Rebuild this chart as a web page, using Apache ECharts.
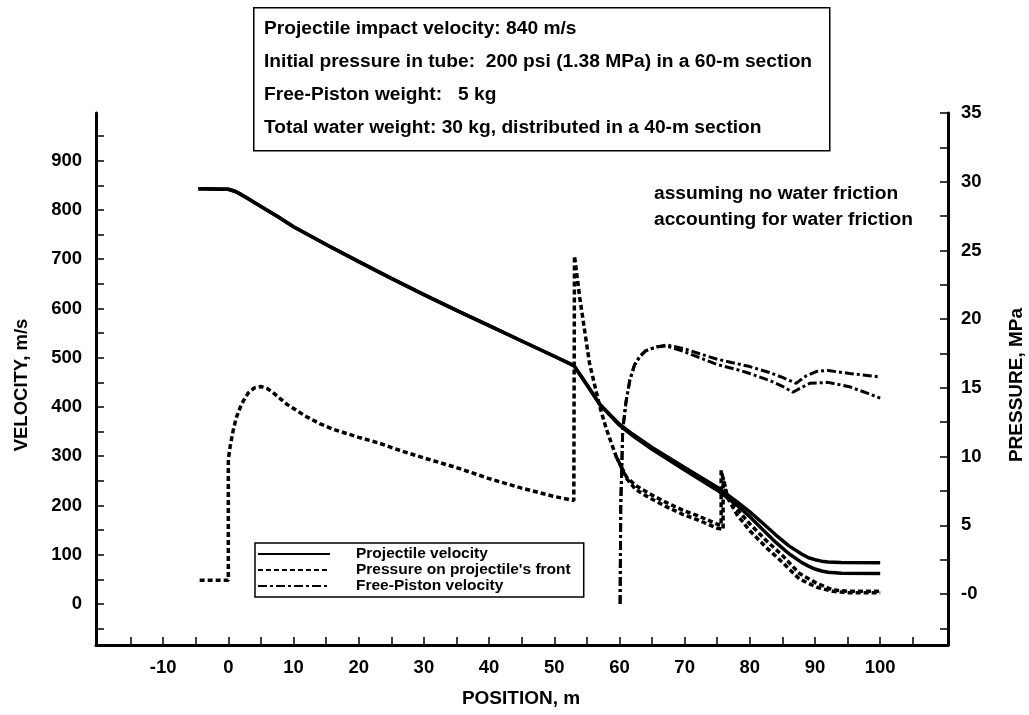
<!DOCTYPE html>
<html>
<head>
<meta charset="utf-8">
<script src="https://cdn.jsdelivr.net/npm/echarts@6/dist/echarts.min.js"></script>
<style>
html,body{margin:0;padding:0;background:#fff;}
#chart{width:1029px;height:715px;}
</style>
</head>
<body>
<div id="chart"></div>
<script>
// ---- Data ----
// Projectile velocity, m/s (left axis)
const velX1 = [-4.6, 0, 1, 2, 3, 5, 7.5, 10, 15, 20, 25, 30, 35, 40, 45, 50, 53, 55, 57, 60, 62, 65, 70, 75, 78, 80, 82, 84, 86, 88, 89, 90, 91, 92, 94, 100];
const velNoFriction = [843, 842, 838, 831, 823, 807, 787, 766, 730, 695, 661, 628, 596, 565, 534, 503, 484, 445, 405, 365, 345, 318, 277, 237, 208, 187, 164, 140, 118, 101, 94, 90, 87, 85.5, 84.5, 84];
const velX2 = [-4.6, 0, 1, 2, 3, 5, 7.5, 10, 15, 20, 25, 30, 35, 40, 45, 50, 53, 55, 57, 60, 62, 65, 70, 75, 78, 80, 82, 84, 86, 88, 89, 90, 91, 92, 94, 100];
const velFriction = [843, 842, 838, 831, 823, 807, 787, 766, 730, 695, 661, 628, 596, 565, 534, 503, 484, 445, 405, 363, 342, 314, 272, 231, 201, 177, 151, 125, 102, 84, 77, 71, 67, 64.5, 62.5, 62];

// Pressure on projectile's front, MPa (right axis)
const presX1 = [-4.4, 0, 0, 0.3, 0.7, 1.2, 2, 3, 4, 5, 6, 7, 8, 9, 10, 12, 14, 16, 18, 20, 23, 26, 30, 35, 40, 45, 50, 53, 53.1, 53.9, 55.4, 57, 58, 59.5, 61.1, 62.5, 64.6, 67, 69.7, 72, 74.9, 75.6, 75.6, 76.4, 78, 80, 82.5, 85, 87.6, 90.2, 92.7, 95, 100];
const presNoFriction = [1.0, 1.0, 9.8, 10.8, 11.8, 12.8, 13.8, 14.6, 15.0, 15.1, 14.95, 14.6, 14.2, 13.8, 13.5, 12.9, 12.4, 12.0, 11.7, 11.4, 11.0, 10.5, 9.9, 9.2, 8.4, 7.7, 7.1, 6.8, 24.6, 21.6, 16.8, 13.6, 12.0, 10.0, 8.5, 7.9, 7.3, 6.7, 6.1, 5.7, 5.1, 5.0, 9.0, 7.3, 6.2, 5.1, 3.9, 2.8, 1.5, 0.8, 0.3, 0.2, 0.2];
const presX2 = [59.5, 61.1, 62.5, 64.6, 67, 69.7, 72, 74.9, 75.9, 75.9, 76.6, 78, 80, 82.5, 85, 87.6, 90.2, 92.7, 95, 100];
const presFriction = [10.0, 8.4, 7.6, 7.0, 6.4, 5.8, 5.4, 4.8, 4.7, 8.5, 7.0, 5.8, 4.6, 3.4, 2.3, 1.1, 0.5, 0.2, 0.1, 0.1];

// Free-Piston velocity, m/s (left axis)
const pistX1 = [60.1, 60.2, 60.5, 61, 61.6, 62.3, 63.1, 64, 65.7, 67.2, 70, 72.3, 75, 78, 80, 83, 85, 87.1, 88.5, 90.2, 92, 95.3, 98, 100];
const pistNoFriction = [0, 200, 353, 410, 455, 485, 502, 514, 522, 526, 518, 508, 497, 488, 482, 470, 460, 448, 462, 472, 474, 468, 464, 461];
const pistX2 = [60.1, 60.2, 60.5, 61, 61.6, 62.3, 63.1, 64, 65.7, 67.2, 70, 72.3, 75, 78, 80, 83, 85, 86.6, 88, 89.2, 92, 95.3, 98, 100];
const pistFriction = [0, 200, 353, 410, 455, 485, 502, 514, 522, 524, 512, 500, 486, 476, 468, 454, 442, 430, 440, 448, 450, 441, 428, 418];

// Axis ticks / labels
const xTicks = [-15, -10, -5, 0, 5, 10, 15, 20, 25, 30, 35, 40, 45, 50, 55, 60, 65, 70, 75, 80, 85, 90, 95, 100, 105];
const xLabels = [-10, 0, 10, 20, 30, 40, 50, 60, 70, 80, 90, 100];
const velTicks = [-50, 0, 50, 100, 150, 200, 250, 300, 350, 400, 450, 500, 550, 600, 650, 700, 750, 800, 850, 900, 950];
const velLabels = [0, 100, 200, 300, 400, 500, 600, 700, 800, 900];
const presTicks = [-2.5, 0, 2.5, 5, 7.5, 10, 12.5, 15, 17.5, 20, 22.5, 25, 27.5, 30, 32.5, 35];
const presLabels = [0, 5, 10, 15, 20, 25, 30, 35];

const infoLines = [
  'Projectile impact velocity: 840 m/s',
  'Initial pressure in tube:  200 psi (1.38 MPa) in a 60-m section',
  'Free-Piston weight:   5 kg',
  'Total water weight: 30 kg, distributed in a 40-m section'
];
const noteLines = ['assuming no water friction', 'accounting for water friction'];
const legendNames = ['Projectile velocity', "Pressure on projectile's front", 'Free-Piston velocity'];
const axisTitles = ['POSITION, m', 'VELOCITY, m/s', 'PRESSURE, MPa'];

const zip = (xs, ys) => xs.map((x, i) => [x, ys[i]]);

const FONT = '"Liberation Sans", Arial, Helvetica, sans-serif';
const chart = echarts.init(document.getElementById('chart'), null, {renderer: 'canvas'});

const solid = {color: '#000', width: 3.5, type: 'solid'};
const dotted = {color: '#000', width: 3.5, type: [5, 3]};
const dashDot = {color: '#000', width: 3, type: [9, 3, 3, 3]};
const tickFont = {fontFamily: FONT, fontWeight: 'bold', fontSize: 18.5, color: '#000'};

const option = {
  animation: false,
  backgroundColor: '#fff',
  grid: {left: 96, right: 81, top: 113, bottom: 70},
  legend: {
    data: legendNames,
    orient: 'vertical',
    left: 255, top: 543,
    padding: [3, 13, 3, 2],
    itemWidth: 72, itemHeight: 13.5, itemGap: 0,
    borderColor: '#000', borderWidth: 1.5,
    backgroundColor: '#fff',
    itemStyle: {color: 'rgba(0,0,0,0)', borderWidth: 0, opacity: 0},
    textStyle: {fontFamily: FONT, fontWeight: 'bold', fontSize: 15.5, color: '#000', lineHeight: 13.5, padding: [0, 0, 0, 21]},
    selectedMode: false,
    z: 10
  },
  xAxis: {
    type: 'value', min: -20.3, max: 110.4,
    axisLine: {show: true, onZero: false, lineStyle: {color: '#000', width: 3}},
    axisTick: {show: true, inside: true, length: 8, lineStyle: {color: '#000', width: 1.5}, customValues: xTicks},
    axisLabel: Object.assign({margin: 13, customValues: xLabels}, tickFont),
    splitLine: {show: false}
  },
  yAxis: [
    {
      type: 'value', position: 'left', min: -83.2, max: 996.8,
      axisLine: {show: true, onZero: false, lineStyle: {color: '#000', width: 3}},
      axisTick: {show: true, inside: true, length: 8, lineStyle: {color: '#000', width: 1.5}, customValues: velTicks},
      axisLabel: Object.assign({margin: 14, customValues: velLabels}, tickFont),
      splitLine: {show: false}
    },
    {
      type: 'value', position: 'right', min: -3.71, max: 35,
      axisLine: {show: true, onZero: false, lineStyle: {color: '#000', width: 3}},
      axisTick: {show: true, inside: true, length: 8, lineStyle: {color: '#000', width: 1.5}, customValues: presTicks},
      axisLabel: Object.assign({margin: 13, customValues: presLabels,
        formatter: v => (v === 0 ? '-0' : String(v))}, tickFont),
      splitLine: {show: false}
    }
  ],
  graphic: [
    {type: 'rect', left: 253, top: 7, z: 100, shape: {width: 576, height: 143},
     style: {fill: '#fff', stroke: '#000', lineWidth: 1.5}},
    ...infoLines.map((t, i) => ({type: 'text', x: 264, y: 29 + i * 33, z: 101,
      style: {text: t, font: 'bold 19.2px ' + FONT, fill: '#000', verticalAlign: 'middle'}})),
    ...noteLines.map((t, i) => ({type: 'text', x: 654, y: 194 + i * 26, z: 101,
      style: {text: t, font: 'bold 19.2px ' + FONT, fill: '#000', verticalAlign: 'middle'}})),
    {type: 'text', x: 521, y: 699, z: 101,
     style: {text: axisTitles[0], font: 'bold 19px ' + FONT, fill: '#000', align: 'center', verticalAlign: 'middle'}},
    {type: 'text', x: 22, y: 385, rotation: Math.PI / 2, z: 101,
     style: {text: axisTitles[1], font: 'bold 18.5px ' + FONT, fill: '#000', align: 'center', verticalAlign: 'middle'}},
    {type: 'text', x: 1017, y: 385, rotation: Math.PI / 2, z: 101,
     style: {text: axisTitles[2], font: 'bold 19px ' + FONT, fill: '#000', align: 'center', verticalAlign: 'middle'}}
  ],
  series: [
    {name: legendNames[0], type: 'line', yAxisIndex: 0, data: zip(velX1, velNoFriction), symbol: 'none', lineStyle: solid, itemStyle: {color: '#000'}},
    {name: legendNames[0], type: 'line', yAxisIndex: 0, data: zip(velX2, velFriction), symbol: 'none', lineStyle: solid, itemStyle: {color: '#000'}},
    {name: legendNames[1], type: 'line', yAxisIndex: 1, data: zip(presX1, presNoFriction), symbol: 'none', lineStyle: dotted, itemStyle: {color: '#000'}},
    {name: legendNames[1], type: 'line', yAxisIndex: 1, data: zip(presX2, presFriction), symbol: 'none', lineStyle: dotted, itemStyle: {color: '#000'}},
    {name: legendNames[2], type: 'line', yAxisIndex: 0, data: zip(pistX1, pistNoFriction), symbol: 'none', lineStyle: dashDot, itemStyle: {color: '#000'}},
    {name: legendNames[2], type: 'line', yAxisIndex: 0, data: zip(pistX2, pistFriction), symbol: 'none', lineStyle: dashDot, itemStyle: {color: '#000'}}
  ]
};
chart.setOption(option);
</script>
</body>
</html>
